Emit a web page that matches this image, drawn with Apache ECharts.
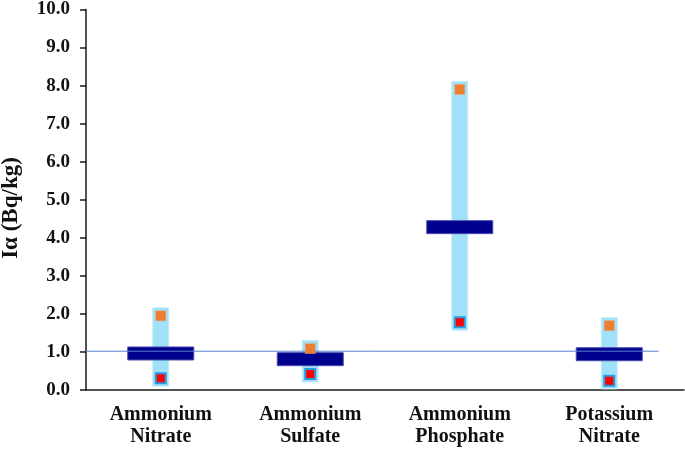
<!DOCTYPE html>
<html>
<head>
<meta charset="utf-8">
<script src="https://cdn.jsdelivr.net/npm/echarts@6/dist/echarts.min.js"></script>
<style>
html,body{margin:0;padding:0;background:#fff;}
#chart{width:685px;height:452px;}
</style>
</head>
<body>
<div id="chart"></div>
<script>
var categories = ["Ammonium\nNitrate", "Ammonium\nSulfate", "Ammonium\nPhosphate", "Potassium\nNitrate"];
var maxValues = [1.95, 1.09, 7.90, 1.69];
var minValues = [0.31, 0.42, 1.78, 0.24];
var meanValues = [0.96, 0.81, 4.28, 0.94];
var refLevel = 1.02;
var refLineEnd = 3.83;
var yTicks = [0, 1, 2, 3, 4, 5, 6, 7, 8, 9, 10];

var FONT = "'Liberation Serif','Times New Roman',serif";
var chart = echarts.init(document.getElementById('chart'), null, {renderer: 'canvas'});

var rangeData = categories.map(function (c, i) { return [i, minValues[i], maxValues[i]]; });
var meanData = categories.map(function (c, i) { return [i, meanValues[i]]; });

var option = {
  animation: false,
  backgroundColor: '#ffffff',
  grid: {left: 86, right: 1, top: 9.5, bottom: 62, containLabel: false},
  xAxis: [{
    type: 'category',
    data: categories,
    boundaryGap: true,
    axisLine: {lineStyle: {color: '#1a1a1a', width: 1.5}},
    axisTick: {alignWithLabel: true, length: 6, lineStyle: {color: '#1a1a1a', width: 1.5}},
    axisLabel: {interval: 0, margin: 14, color: '#111', fontFamily: FONT, fontWeight: 'bold', fontSize: 20, lineHeight: 22},
    splitLine: {show: false}
  }, {
    type: 'value', min: 0, max: 4, show: false
  }],
  yAxis: {
    type: 'value', min: 0, max: 10, interval: 1,
    axisLine: {show: true, lineStyle: {color: '#1a1a1a', width: 1.5}},
    axisTick: {show: true, length: 6, lineStyle: {color: '#1a1a1a', width: 1.5}},
    axisLabel: {margin: 16, color: '#111', fontFamily: FONT, fontWeight: 'bold', fontSize: 19,
      customValues: yTicks,
      formatter: function (v) { return v.toFixed(1); }},
    splitLine: {show: false}
  },
  graphic: [{
    type: 'text', x: 11, y: 208, rotation: Math.PI / 2,
    style: {text: 'I\u03b1 (Bq/kg)', font: 'bold 23px ' + FONT, fill: '#111', align: 'center', verticalAlign: 'middle'}
  }],
  series: [{
    name: 'range', type: 'custom', xAxisIndex: 0, z: 2,
    data: rangeData,
    renderItem: function (params, api) {
      var top = api.coord([api.value(0), api.value(2)]);
      var bot = api.coord([api.value(0), api.value(1)]);
      var w = 16, pad = 8;
      return {type: 'rect', shape: {x: top[0] - w / 2, y: top[1] - pad, width: w, height: bot[1] - top[1] + 2 * pad},
        style: {fill: '#a0e0f8', stroke: '#c4ecfb', lineWidth: 1}};
    }
  }, {
    name: 'mean', type: 'custom', xAxisIndex: 0, z: 3,
    data: meanData,
    renderItem: function (params, api) {
      var p = api.coord([api.value(0), api.value(1)]);
      var w = 66, h = 13;
      return {type: 'rect', shape: {x: p[0] - w / 2, y: p[1] - h / 2, width: w, height: h},
        style: {fill: '#00008f', stroke: '#4a4ab0', lineWidth: 1}};
    }
  }, {
    name: 'ref', type: 'line', xAxisIndex: 1, z: 4,
    data: [[0, refLevel], [refLineEnd, refLevel]],
    symbol: 'none', silent: true,
    lineStyle: {color: '#5b7fd0', width: 1}
  }, {
    name: 'max', type: 'scatter', xAxisIndex: 0, z: 5,
    data: maxValues, symbol: 'rect', symbolSize: 10,
    itemStyle: {color: '#ed7d31', borderColor: '#f0a070', borderWidth: 0.5, opacity: 1}
  }, {
    name: 'min', type: 'scatter', xAxisIndex: 0, z: 5,
    data: minValues, symbol: 'rect', symbolSize: 10,
    itemStyle: {color: '#ff0000', borderColor: '#2a9be0', borderWidth: 2, opacity: 1}
  }]
};
chart.setOption(option);
</script>
</body>
</html>
